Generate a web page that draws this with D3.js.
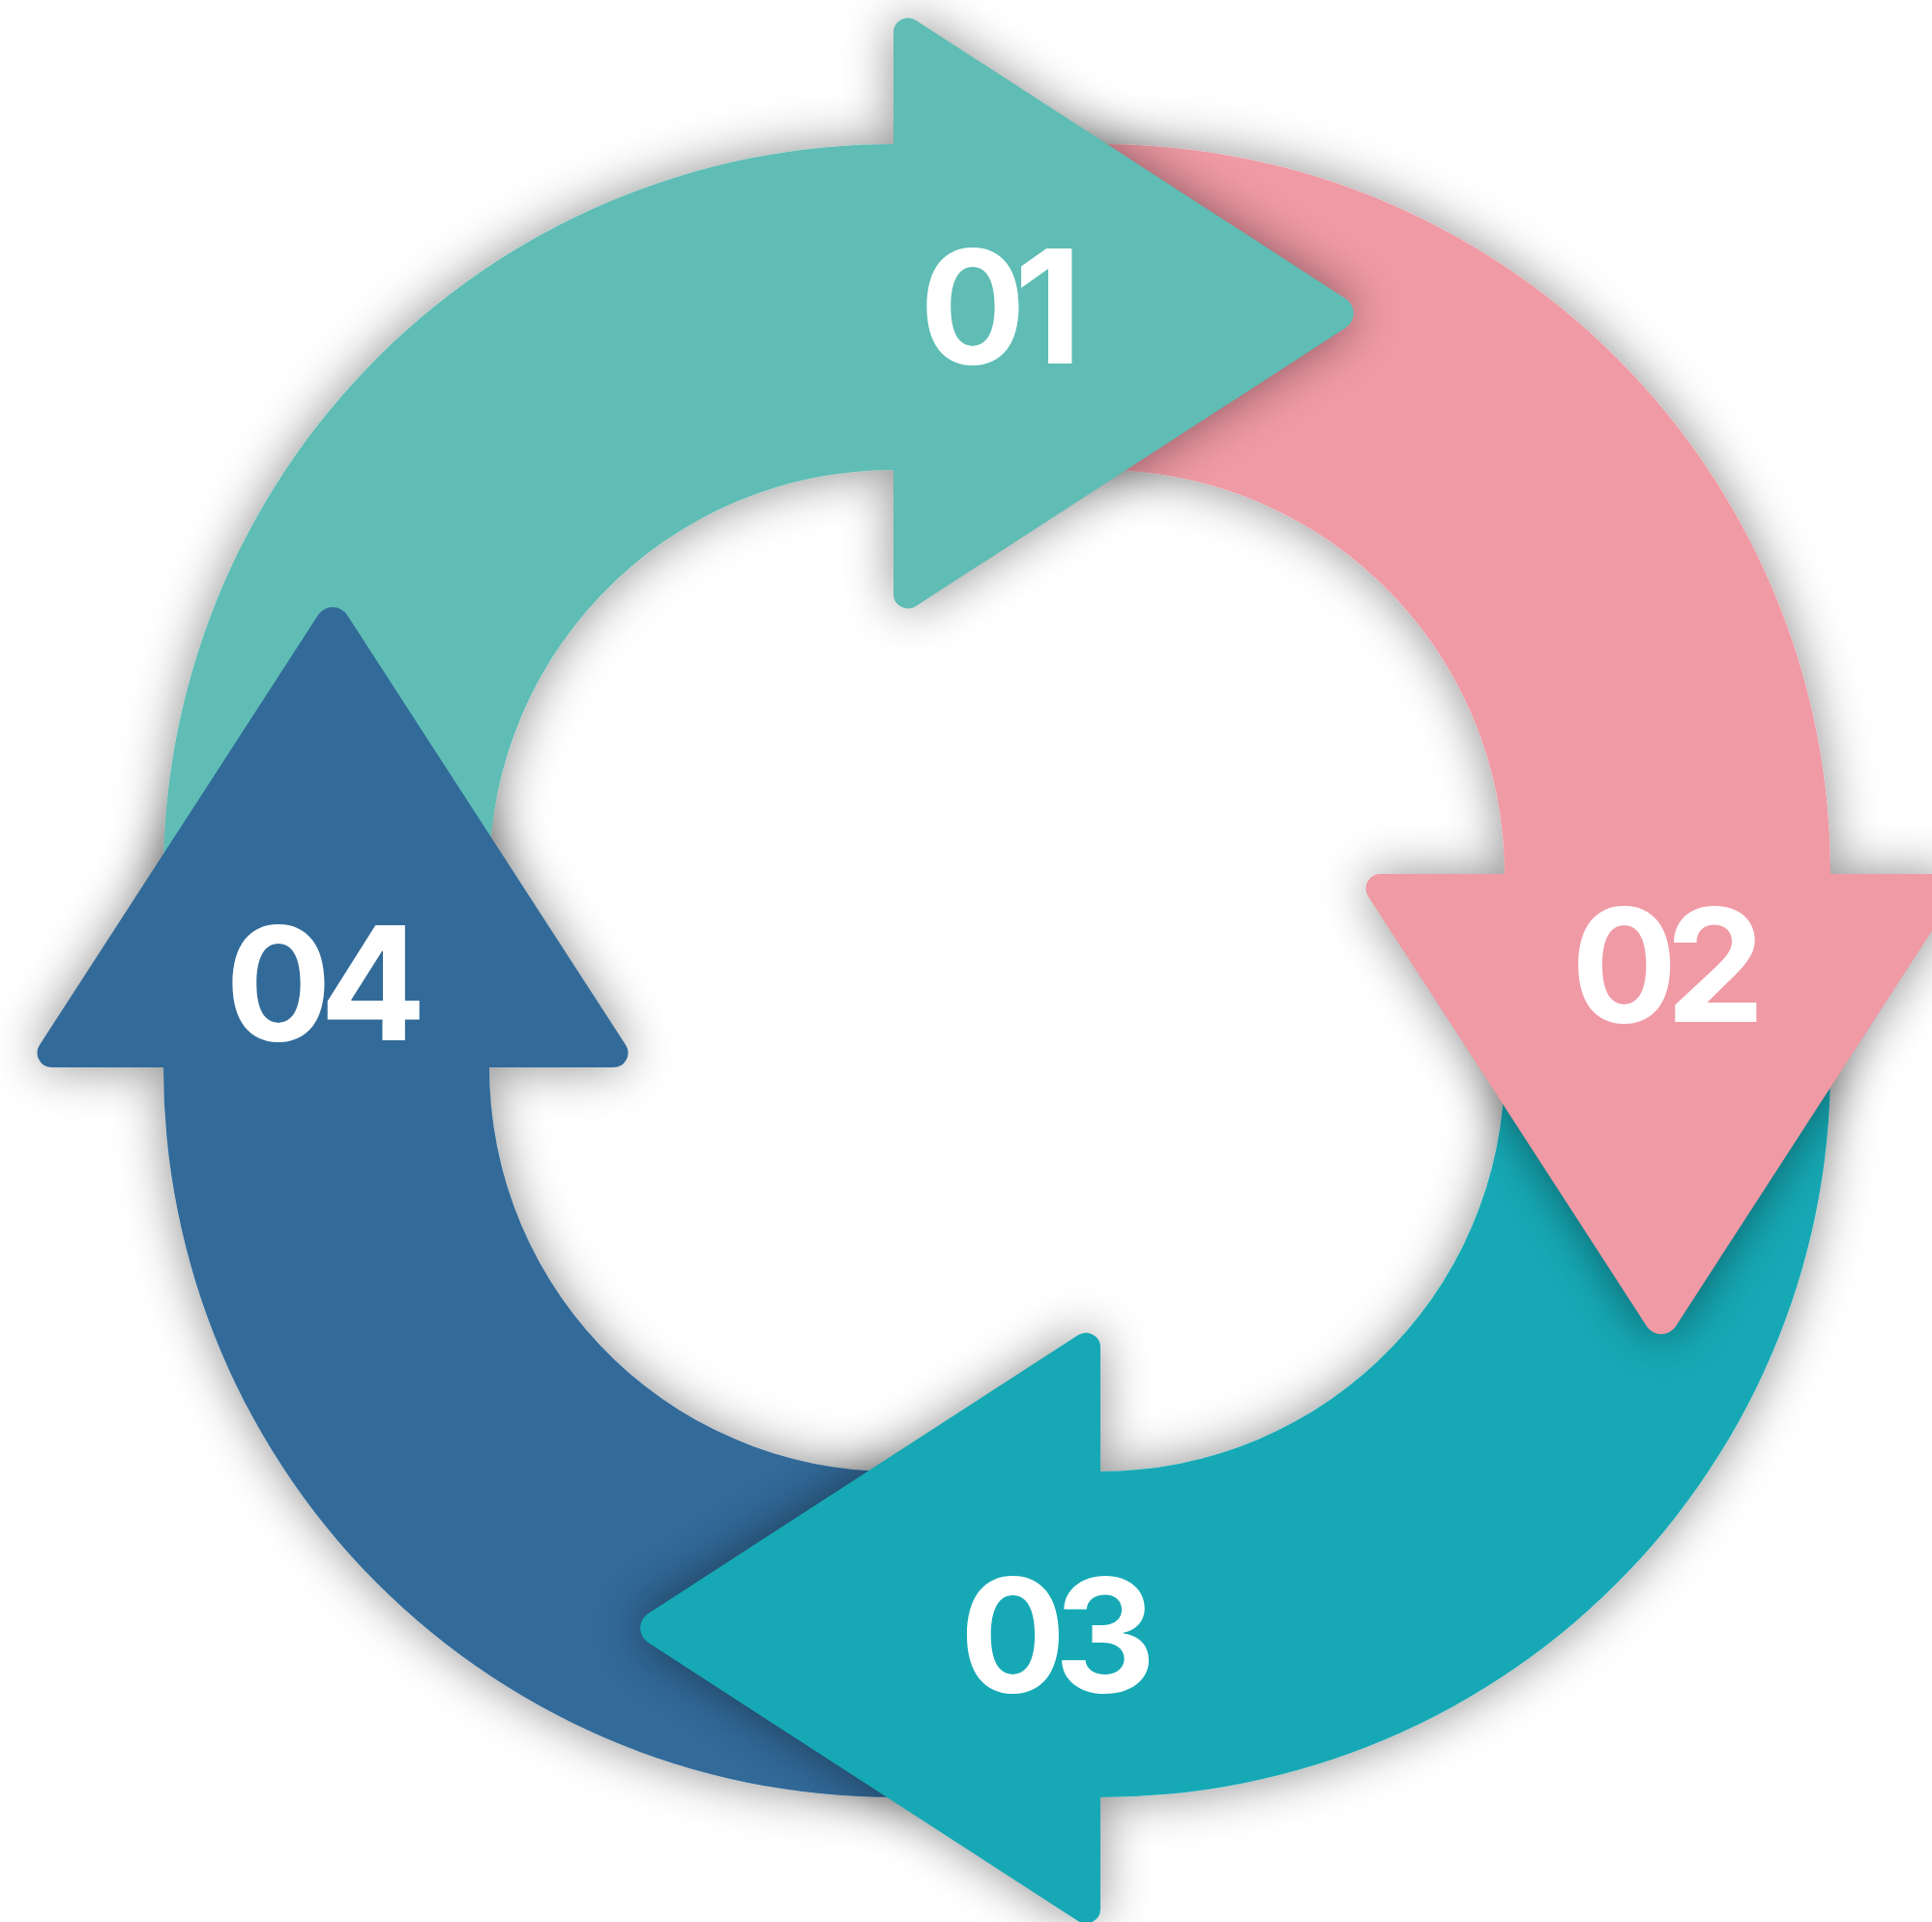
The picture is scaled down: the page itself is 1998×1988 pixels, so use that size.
<!DOCTYPE html>
<html>
<head>
<meta charset="utf-8">
<script src="https://cdn.jsdelivr.net/npm/d3@7"></script>
<style>
  body { margin: 0; background: #fff; overflow: hidden; }
</style>
</head>
<body>
<script>
// step labels and their (equal) share of the cycle
var steps = ['01', '02', '03', '04'];
var weights = [1, 1, 1, 1];
var palette = ['#5fbdb5', '#f09aa5', '#16a9b5', '#326b99'];
// how far the number sits from the head base, along the arrow
var labelShift = [111, 94, 44, 87];

var width = 1998,
    height = 1988,
    cx = 1031,
    cy = 1004,
    explodeX = 107,
    explodeY = 100,
    rIn = 418,
    rOut = 755,
    headR = 580,
    headHalf = 318,
    headLen = 491,
    labelR = 587,
    deg = Math.PI / 180;

var color = d3.scaleOrdinal().domain(steps).range(palette);

var pie = d3.pie().sort(null).value(function(d) { return d; })
    .startAngle(-Math.PI / 2).endAngle(1.5 * Math.PI);

var slices = pie(weights).map(function(d, i) {
    var mid = (d.startAngle + d.endAngle) / 2;
    d.key = steps[i];
    d.ox = explodeX * Math.SQRT2 * Math.sin(mid);
    d.oy = -explodeY * Math.SQRT2 * Math.cos(mid);
    return d;
});

var arc = d3.arc().innerRadius(rIn).outerRadius(rOut);
// start tucked under the previous head, end tucked under its own head
function bandPath(d) {
    return arc({ startAngle: d.startAngle - 3 * deg, endAngle: d.endAngle + 0.4 * deg });
}

// arrow head drawn at the top (angle 0) pointing right, then rotated
function headPath() {
    var p = d3.path();
    p.moveTo(0, -headR);
    p.arcTo(0, -(headR + headHalf), headLen, -headR, 15);
    p.arcTo(headLen, -headR, 0, -(headR - headHalf), 18);
    p.arcTo(0, -(headR - headHalf), 0, -headR, 15);
    p.closePath();
    return p.toString();
}

function shift(d) { return 'translate(' + d.ox + ',' + d.oy + ')'; }

var svg = d3.select('body').append('svg')
    .attr('width', width)
    .attr('height', height)
    .style('background', 'white');

var defs = svg.append('defs');

defs.append('filter')
    .attr('id', 'drop')
    .attr('x', '-25%').attr('y', '-25%')
    .attr('width', '150%').attr('height', '150%')
  .append('feDropShadow')
    .attr('dx', 0).attr('dy', 0)
    .attr('stdDeviation', 26)
    .attr('flood-color', '#000')
    .attr('flood-opacity', 0.45);

defs.append('filter')
    .attr('id', 'blur')
    .attr('x', '-35%').attr('y', '-35%')
    .attr('width', '170%').attr('height', '170%')
  .append('feGaussianBlur')
    .attr('stdDeviation', 26);

// a head's shadow must not fall on its own band (and the last one not on the first band)
slices.forEach(function(d, i) {
    var m = defs.append('mask')
        .attr('id', 'mask-' + i)
        .attr('maskUnits', 'userSpaceOnUse')
        .attr('x', -1200).attr('y', -1200)
        .attr('width', 2400).attr('height', 2400);
    m.append('rect')
        .attr('x', -1200).attr('y', -1200)
        .attr('width', 2400).attr('height', 2400)
        .attr('fill', 'white');
    var skip = i === slices.length - 1 ? [i, 0] : [i];
    skip.forEach(function(j) {
        m.append('path')
            .attr('d', bandPath(slices[j]))
            .attr('transform', shift(slices[j]))
            .attr('fill', 'black');
    });
});

var root = svg.append('g')
    .attr('transform', 'translate(' + cx + ',' + cy + ')');

//bands of the ring
root.append('g').selectAll('path')
    .data(slices)
    .enter().append('path')
        .attr('d', bandPath)
        .attr('transform', shift)
        .attr('fill', function(d) { return color(d.key); })
        .attr('filter', 'url(#drop)');

//arrow heads with their shadows
var heads = root.append('g').selectAll('g')
    .data(slices)
    .enter().append('g');

function headTransform(d) {
    return shift(d) + ' rotate(' + (d.endAngle / deg) + ')';
}

heads.append('g')
    .attr('mask', function(d, i) { return 'url(#mask-' + i + ')'; })
  .append('path')
    .attr('d', headPath())
    .attr('transform', headTransform)
    .attr('fill', '#000')
    .attr('opacity', 0.45)
    .attr('filter', 'url(#blur)');

heads.append('path')
    .attr('d', headPath())
    .attr('transform', headTransform)
    .attr('fill', function(d) { return color(d.key); });

//step numbers, centred on a point inside each head
root.append('g').selectAll('text')
    .data(slices)
    .enter().append('text')
        .text(function(d) { return d.key; })
        .attr('fill', 'white')
        .style('font-family', 'Inter, Roboto, sans-serif')
        .style('font-weight', 700)
        .style('font-size', '163px')
        .style('letter-spacing', '-12px')
        .each(function(d, i) {
            var a = d.endAngle,
                px = d.ox + labelShift[i] * Math.cos(a) + labelR * Math.sin(a),
                py = d.oy + labelShift[i] * Math.sin(a) - labelR * Math.cos(a),
                el = d3.select(this).attr('x', 0).attr('y', 0),
                w = this.getComputedTextLength() + 12;
            el.attr('x', px - w / 2).attr('y', py + 59);
        });
</script>
</body>
</html>
